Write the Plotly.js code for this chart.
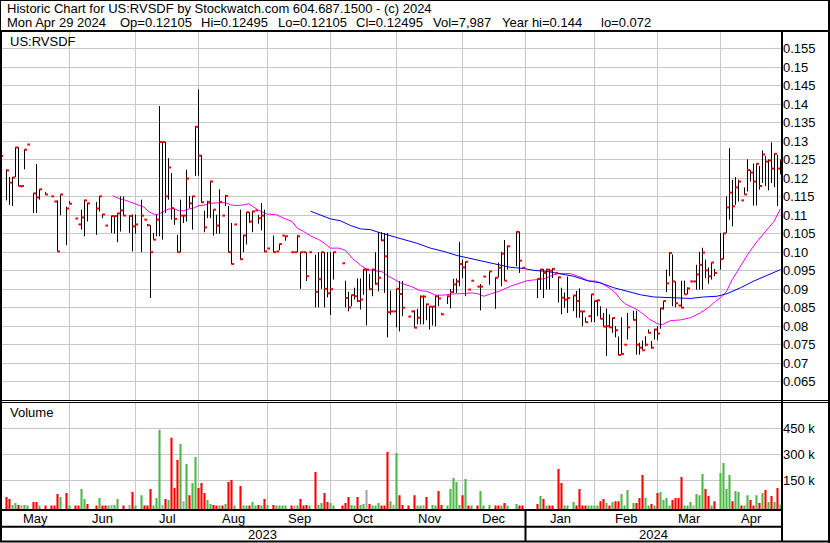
<!DOCTYPE html>
<html><head><meta charset="utf-8">
<script src="https://cdn.plot.ly/plotly-3.0.1.min.js"></script>
<style>html,body{margin:0;padding:0;background:#fff}#chart{width:830px;height:543px}</style>
</head><body><div id="chart"></div>
<script>
// ---------- DATA ----------
// trading-day index (weekdays counted from Mon May 1 2023 = 0 to Mon Apr 29 2024 = 260)
const barDay = [
 0,2,3,4,5,6,7,8,9,11,
 12,13,15,17,18,19,20,22,23,25,
 26,27,28,29,32,33,34,35,37,38,
 39,40,41,43,44,45,47,48,49,50,
 51,52,53,54,55,56,57,58,59,60,
 61,62,63,64,65,66,67,68,69,70,
 71,72,73,74,75,76,77,78,80,81,
 82,83,84,85,86,87,88,89,91,92,
 93,94,95,97,98,99,100,101,102,103,
 105,106,107,108,109,110,111,114,115,116,
 117,118,119,120,121,122,123,124,125,126,
 127,128,129,130,131,132,133,134,136,137,
 138,139,140,141,142,143,144,145,146,147,
 149,150,151,152,153,154,155,156,157,159,
 160,161,163,165,166,167,168,169,172,173,
 174,179,180,181,182,183,184,185,186,187,
 188,189,191,192,193,194,195,196,197,198,
 199,200,201,202,203,204,205,206,207,208,
 209,211,212,213,214,215,216,217,218,219,
 220,221,222,223,224,225,226,227,228,229,
 230,231,232,233,234,235,236,237,238,240,
 241,242,243,244,245,246,247,248,249,250,
 251,252,253,254,255,256,257,258,259,260];
const barHigh = [
 .1321,.1224,.1203,.1203,.1284,.1284,.1179,.1278,.1291,.1159,
 .1238,.1170,.1163,.1151,.1137,.1140,.1156,.1123,.1138,.1091,
 .1075,.1115,.1142,.1134,.1136,.1152,.1103,.1072,.1098,.1098,
 .1105,.1151,.1151,.1099,.1102,.1102,.1142,.1088,.1076,.1073,
 .1052,.1101,.1395,.1298,.1298,.1254,.1214,.1117,.1047,.1142,
 .1101,.1223,.1152,.1152,.1341,.1440,.1263,.1112,.1139,.1193,
 .1115,.1101,.1170,.1099,.1155,.1125,.1079,.1075,.1115,.1047,
 .1108,.1108,.1112,.1113,.1101,.1133,.1115,.1010,.1045,.1002,
 .1022,.1045,.1044,.1000,.1000,.1047,.1000,.1000,.1000,.1000,
 .0993,.1000,.1000,.1000,.1000,.1000,.1000,.0970,.0923,.0893,
 .0885,.0904,.0929,.0929,.0955,.0955,.0941,.0955,.1000,.1054,
 .1054,.1052,.1052,.0896,.0840,.0901,.0922,.0922,.0826,.0840,
 .0843,.0847,.0883,.0883,.0861,.0854,.0854,.0883,.0883,.0836,
 .0883,.0901,.0928,.0929,.1028,.0980,.0975,.0899,.0923,.0907,
 .0914,.0934,.0948,.0932,.0972,.1001,.1033,.1018,.1056,.1056,
 .0958,.0928,.0955,.0955,.0955,.0955,.0957,.0944,.0934,.0904,
 .0891,.0934,.0883,.0895,.0902,.0840,.0824,.0827,.0887,.0869,
 .0872,.0854,.0836,.0848,.0832,.0823,.0800,.0772,.0824,.0750,
 .0836,.0842,.0842,.0755,.0761,.0773,.0791,.0760,.0793,.0800,
 .0850,.0868,.0953,.1000,.0994,.0921,.0856,.0923,.0923,.0905,
 .0921,.0921,.0966,.1001,.1012,.0980,.0959,.0972,.0955,.1052,
 .1052,.1151,.1281,.1196,.1203,.1196,.1140,.1175,.1251,.1222,
 .1240,.1240,.1233,.1275,.1260,.1251,.1297,.1267,.1263,.12495];
const barLow = [
 .1259,.1140,.1128,.1125,.1203,.1179,.1175,.1224,.1291,.1106,
 .1106,.1142,.1156,.1151,.1137,.1002,.1100,.1019,.1130,.1091,
 .1075,.1061,.1043,.1083,.1047,.1110,.1092,.1072,.1052,.1050,
 .1027,.1056,.1099,.1052,.1002,.1050,.1000,.1088,.1070,.0876,
 .1034,.1043,.1043,.1034,.1106,.1142,.1088,.1074,.1000,.1000,
 .1079,.1083,.1119,.1061,.1206,.1207,.1133,.1054,.1092,.1092,
 .1045,.1050,.1050,.1099,.1125,.1000,.0968,.1075,.0980,.1000,
 .1021,.1079,.1054,.1113,.1077,.1059,.1000,.1010,.1000,.1002,
 .1005,.1045,.1031,.1000,.1000,.1000,.0901,.1000,.0922,.1000,
 .0851,.0851,.0901,.0851,.0878,.0830,.0926,.0970,.0851,.0840,
 .0854,.0872,.0865,.0845,.0885,.0802,.0899,.0881,.0912,.0894,
 .1030,.0890,.0770,.0831,.0840,.0797,.0786,.0827,.0826,.0840,
 .0796,.0805,.0805,.0805,.0816,.0791,.0802,.0800,.0854,.0832,
 .0860,.0848,.0890,.0890,.0908,.0930,.0881,.0899,.0923,.0907,
 .0843,.0934,.0912,.0847,.0932,.0908,.0923,.0953,.0962,.0944,
 .0958,.0876,.0898,.0876,.0899,.0899,.0930,.0944,.0864,.0832,
 .0850,.0836,.0841,.0823,.0823,.0800,.0811,.0827,.0811,.0811,
 .0827,.0820,.0799,.0720,.0796,.0782,.0770,.0722,.0723,.0750,
 .0764,.0817,.0723,.0723,.0735,.0746,.0782,.0739,.0764,.0762,
 .0793,.0845,.0892,.0935,.0854,.0851,.0856,.0850,.0886,.0886,
 .0921,.0921,.0899,.0899,.0899,.0930,.0915,.0926,.0935,.0953,
 .0981,.1052,.1088,.1070,.1128,.1137,.1140,.1156,.1164,.1191,
 .1126,.1126,.1169,.1187,.1179,.1167,.1187,.1176,.1125,.12105];
const barClose = [
 .1260,.1221,.1188,.1202,.1283,.1179,.1179,.1277,.1291,.1159,
 .1148,.1170,.1156,.1151,.1137,.1002,.1156,.1118,.1131,.1091,
 .1075,.1094,.1140,.1132,.1118,.1151,.1102,.1072,.1098,.1098,
 .1105,.1113,.1099,.1098,.1070,.1075,.1099,.1088,.1073,.1000,
 .1034,.1088,.1298,.1298,.1151,.1229,.1119,.1090,.1000,.1099,
 .1099,.1199,.1132,.1151,.1339,.1261,.1135,.1067,.1136,.1191,
 .1115,.1072,.1136,.1099,.1152,.1000,.0968,.1075,.0981,.1045,
 .1108,.1083,.1110,.1113,.1092,.1099,.1002,.1010,.1000,.1002,
 .1022,.1045,.1043,.1000,.1000,.1043,.1000,.1000,.0935,.1000,
 .0893,.0927,.1000,.0901,.0889,.0900,.1000,.0970,.0876,.0851,
 .0884,.0881,.0868,.0872,.0953,.0953,.0900,.0953,.0915,.0931,
 .1032,.0989,.0838,.0840,.0840,.0901,.0887,.0850,.0826,.0840,
 .0796,.0823,.0880,.0880,.0859,.0853,.0853,.0881,.0875,.0832,
 .0881,.0892,.0913,.0921,.0968,.0959,.0974,.0899,.0923,.0907,
 .0907,.0934,.0948,.0931,.0958,.0996,.0923,.1016,.1055,.0977,
 .0958,.0928,.0953,.0944,.0953,.0950,.0955,.0944,.0932,.0877,
 .0872,.0876,.0883,.0868,.0840,.0840,.0811,.0827,.0886,.0868,
 .0870,.0820,.0799,.0800,.0797,.0822,.0789,.0722,.0725,.0750,
 .0797,.0817,.0750,.0742,.0735,.0750,.0782,.0742,.0791,.0780,
 .0848,.0868,.0916,.0998,.0921,.0862,.0856,.0850,.0886,.0902,
 .0921,.0921,.0940,.0966,.0999,.0951,.0935,.0972,.0944,.0981,
 .1051,.1121,.1161,.1124,.1175,.1191,.1140,.1156,.1222,.1215,
 .1191,.1239,.1179,.1264,.1245,.1248,.1226,.1266,.1226,.12495];

// moving averages
const maFastDay = [37.4,39.4,41.1,42.8,45.6,47.8,49.4,51.1,52.2,53.9,56.1,57.8,59.4,61.1,62.8,64.4,66.1,67.8,69.4,71.1,72.8,75,76.7,78.9,81.1,82.8,84.4,86.1,88.9,91.7,94.4,97.2,98.9,101.1,103.3,106.1,107.8,110,112.8,115,117.2,120,122.2,125,127.2,129.4,133.3,136.7,140,142.2,145,147.8,150.6,153.9,157.2,159.4,161.1,163.3,166.7,170,172.8,175.5,178.9,181.7,184.4,186.1,190,191.7,193.9,196.1,198.3,200.6,202.8,205,206.7,208.3,210.6,212.2,214.4,216.1,218.9,220.6,223.3,226.7,230,233.3,236.1,238.3,240.6,242,243.9,246.7,249.4,252.2,255,257.8,260];
const maFastVal = [.1153,.1145,.1142,.1137,.1128,.1122,.1110,.1103,.1101,.1108,.1117,.1118,.1112,.1112,.1117,.1119,.1126,.1127,.1131,.1133,.1133,.1134,.1128,.1126,.1128,.1131,.1122,.1113,.1103,.1102,.1092,.1083,.1065,.1056,.1044,.1034,.1025,.1011,.1011,.1005,.0984,.0965,.0953,.0950,.0947,.0935,.0917,.0908,.0896,.0894,.0884,.0884,.0887,.0888,.0890,.0887,.0881,.0887,.0896,.0908,.0916,.0923,.0926,.0929,.0939,.0942,.0942,.0938,.0931,.0922,.0922,.0915,.0904,.0890,.0872,.0860,.0851,.0845,.0832,.0820,.0807,.0804,.0815,.0817,.0823,.0836,.0851,.0867,.0881,.0894,.0926,.0962,.0998,.1029,.1056,.1083,.1117];
const maSlowDay = [103.3,106.7,110,113.3,116.7,120,123.3,126.7,130,134.4,138.9,143.3,147.8,152.2,156.7,161.1,165.6,170,174.4,177.8,182.2,186.7,191.1,195.6,200,204.4,208.9,213.3,217.8,221.1,225.6,230,234.4,238.9,242.2,246.7,251.1,255.6,260];
const maSlowVal = [.1111,.1100,.1090,.1085,.1072,.1063,.1061,.1052,.1044,.1035,.1024,.1011,.1002,.0991,.0983,.0974,.0968,.0959,.0956,.0951,.0948,.0942,.0935,.0923,.0917,.0904,.0894,.0885,.0879,.0878,.0876,.0875,.0879,.0881,.0888,.0904,.0922,.0938,.0953];

// volume: day index, shares, direction (g up, r down, n unchanged)
const volDay = [
 0,2,3,4,5,6,7,8,9,11, 12,13,15,17,18,19,20,22,23,25, 26,27,28,29,32,33,34,35,36,37,
 38,39,41,43,44,45,47,48,49,50, 51,52,53,54,55,56,57,58,59,60, 61,62,63,64,65,66,67,68,69,70,
 71,72,73,74,75,76,77,78,80,81, 82,83,84,85,86,87,88,89,91,92, 93,94,95,97,98,99,100,101,102,103,
 105,106,107,108,109,110,111,114,115,116, 117,118,119,120,121,122,123,124,125,126, 127,128,129,130,131,132,133,134,136,138,
 139,140,141,142,144,145,146,147,149,150, 151,152,153,154,155,156,157,159,160,161, 163,165,166,167,168,169,172,173,174,179,
 180,181,182,183,184,186,187,188,189,191, 192,193,194,195,196,197,198,199,200,201, 202,203,204,205,206,207,208,209,211,212,
 213,214,215,216,217,218,219,220,221,222, 223,224,225,226,227,228,229,230,231,232, 233,234,235,236,237,238,240,241,242,243,
 244,245,246,247,248,249,250,251,252,253, 254,255,256,257,258,259,260];
const volValue = [
 10000,51000,39000,4000,16000,4000,3000,4000,2000,22000, 22000,2000,2000,2000,2000,68000,51000,74000,2000,2000, 2000,97000,39000,10000,2000,45000,2000,2000,2000,4000,
 4000,39000,2000,4000,80000,2000,62000,2000,2000,97000, 2000,45000,442000,4000,39000,33000,395000,103000,267000,360000, 27000,243000,62000,132000,284000,103000,132000,74000,33000,10000,
 4000,2000,2000,2000,10000,138000,150000,2000,115000,2000, 2000,2000,22000,2000,4000,2000,39000,4000,4000,2000, 2000,2000,2000,2000,2000,2000,39000,2000,4000,2000,
 197000,4000,16000,74000,22000,16000,2000,2000,16000,51000, 4000,2000,51000,4000,10000,92000,10000,2000,2000,16000, 2000,2000,313000,27000,4000,307000,62000,4000,2000,62000,
 2000,2000,4000,51000,4000,2000,86000,4000,2000,97000, 162000,138000,4000,62000,156000,2000,2000,2000,86000,2000, 4000,2000,2000,2000,16000,2000,10000,2000,2000,10000,
 57000,39000,2000,2000,2000,214000,132000,2000,2000,22000, 2000,97000,2000,2000,2000,2000,2000,2000,27000,39000, 16000,2000,22000,27000,27000,68000,2000,92000,16000,16000,
 45000,179000,45000,2000,10000,2000,74000,80000,33000,45000, 2000,33000,45000,45000,167000,2000,2000,22000,2000,68000, 62000,185000,97000,57000,2000,27000,191000,249000,97000,179000,
 27000,86000,80000,2000,2000,62000,33000,2000,62000,16000, 74000,92000,22000,57000,22000,103000,7987];
const volDir = [
 'n','r','r','g','g','r','n','g','g','r', 'r','g','r','r','r','r','g','r','g','r', 'r','g','g','r','r','g','r','r','g','n',
 'g','g','r','n','r','g','g','r','r','r', 'g','g','g','n','r','g','r','r','r','g', 'n','g','r','g','g','r','r','r','g','g',
 'r','r','g','r','g','r','r','g','r','g', 'g','r','g','g','r','g','r','g','r','g', 'g','g','g','r','n','g','r','r','r','g',
 'r','g','g','r','r','g','g','r','r','r', 'g','g','r','g','g','n','r','g','g','g', 'r','r','r','g','n','g','r','r','r','r',
 'g','g','n','r','g','g','r','r','g','g', 'g','g','g','r','g','r','g','r','g','g', 'g','r','r','g','r','g','g','r','r','r',
 'g','r','g','r','r','r','r','g','g','g', 'r','r','r','r','g','g','g','g','r','r', 'g','r','g','r','r','g','g','g','g','r',
 'r','r','g','g','r','g','r','g','g','g', 'g','r','r','r','r','g','g','g','n','g', 'g','g','r','r','g','r','g','g','g','g',
 'r','g','g','r','g','g','r','r','g','r', 'g','r','g','r','g','r','g'];

// axis / label text
const monthNames = ['May','Jun','Jul','Aug','Sep','Oct','Nov','Dec','Jan','Feb','Mar','Apr'];
const monthStart = [0,23,45,66,89,110,132,154,175,198,219,240];
const yearNames = ['2023','2024'];
const yearStart = [0,175];
const priceTicks = [0.065,0.07,0.075,0.08,0.085,0.09,0.095,0.10,0.105,0.11,0.115,0.12,0.125,0.13,0.135,0.14,0.145,0.15,0.155];
const priceTickText = ['0.065','0.07','0.075','0.08','0.085','0.09','0.095','0.10','0.105','0.11','0.115','0.12','0.125','0.13','0.135','0.14','0.145','0.15','0.155'];
const volTicks = [150000,300000,450000];
const volTickText = ['150 k','300 k','450 k'];
const headerLine1 = 'Historic Chart for US:RVSDF by Stockwatch.com 604.687.1500 - (c) 2024';
const headerLine2 = ['Mon Apr 29 2024','Op=0.12105','Hi=0.12495','Lo=0.12105','Cl=0.12495','Vol=7,987','Year hi=0.144','lo=0.072'];
const symbolLabel = 'US:RVSDF';
const volumeLabel = 'Volume';

// ---------- LAYOUT HELPERS ----------
const W = 830, H = 543;
const PX = x => x / W, PY = y => 1 - y / H;
const X0 = 0.5, X1 = 260.5, PL = 2, PR = 782;   // exactly 3 px per trading day
const dayPx = d => PL + (d - X0) * (PR - PL) / (X1 - X0);
const PMIN = 0.060054, PMAX = 0.159514;
const VMIN = -20350, VMAX = 597700;

// ---------- TRACES ----------
const hlX = [], hlY = [], clX = [], clY = [];
for (let i = 0; i < barDay.length; i++) {
  const d = barDay[i];
  if (barHigh[i] > barLow[i]) { hlX.push(d, d, null); hlY.push(barLow[i], barHigh[i], null); }
  clX.push(d - 0.05, d + 0.85, null); clY.push(barClose[i], barClose[i], null);
}
const colorOf = {g: '#4db848', r: '#ff0000', n: '#a6a6a6'};
const traces = [
  {type: 'scatter', mode: 'lines', x: maFastDay, y: maFastVal, line: {color: '#ff00ff', width: 1}, xaxis: 'x', yaxis: 'y', hoverinfo: 'skip'},
  {type: 'scatter', mode: 'lines', x: maSlowDay, y: maSlowVal, line: {color: '#0000ff', width: 1}, xaxis: 'x', yaxis: 'y', hoverinfo: 'skip'},
  {type: 'scatter', mode: 'lines', x: hlX, y: hlY, line: {color: '#000000', width: 1}, xaxis: 'x', yaxis: 'y', hoverinfo: 'skip', connectgaps: false},
  {type: 'scatter', mode: 'lines', x: clX, y: clY, line: {color: '#ff0000', width: 2}, xaxis: 'x', yaxis: 'y', hoverinfo: 'skip', connectgaps: false},
  {type: 'bar', x: volDay, y: volValue.map(v => v - VMIN), base: VMIN, width: 0.7,
   marker: {color: volDir.map(s => colorOf[s]), line: {width: 0}}, xaxis: 'x2', yaxis: 'y2', hoverinfo: 'skip'}
];

// ---------- ANNOTATIONS ----------
const ann = [];
function addText(text, x, y, xanchor, xref) {
  ann.push({text: text, x: x, y: y, xref: xref || 'paper', yref: 'paper', xanchor: xanchor, yanchor: 'middle',
    showarrow: false, borderpad: 0, font: {size: 13, color: '#000'}});
}
addText(headerLine1, PX(6), PY(8.5), 'left');
const line2X = [6, 118.7, 200, 276.7, 355, 431.7, 501, 600];
headerLine2.forEach((t, i) => addText(t, PX(line2X[i]), PY(22.5), 'left'));
addText(symbolLabel, PX(9), PY(41.5), 'left');
addText(volumeLabel, PX(9), PY(413), 'left');
monthNames.forEach((m, i) => {
  const a = monthStart[i], b = (i + 1 < monthStart.length) ? monthStart[i + 1] : X1;
  addText(m, (a + b) / 2, PY(518), 'center', 'x');
});
yearNames.forEach((y, i) => {
  const a = i === 0 ? 0 : dayPx(yearStart[i]);
  const b = i + 1 < yearStart.length ? dayPx(yearStart[i + 1]) : PR;
  addText(y, PX((a + b) / 2), PY(534), 'center');
});

// ---------- SHAPES (frame lines) ----------
const shapes = [];
function hline(y, x0, x1, w) { shapes.push({type: 'line', xref: 'paper', yref: 'paper', x0: PX(x0), x1: PX(x1), y0: PY(y), y1: PY(y), line: {color: '#000', width: w}}); }
function vline(x, y0, y1, w) { shapes.push({type: 'line', xref: 'paper', yref: 'paper', x0: PX(x), x1: PX(x), y0: PY(y0), y1: PY(y1), line: {color: '#000', width: w}}); }
hline(0.5, 0, 830, 1);
hline(31, 0, 830, 2);
vline(0.5, 0, 31, 1);
vline(1, 31, 542, 2);
vline(829, 0, 543, 2);
vline(782, 31, 542, 2);
hline(400.5, 0, 830, 1);
hline(402.5, 0, 830, 1);
hline(510, 0, 782, 2);
hline(526.7, 0, 782, 2);
hline(541.5, 0, 830, 2);
vline(dayPx(yearStart[1]), 510, 541, 2);

const grid = '#c8c8c8';
const layout = {
  width: W, height: H, margin: {l: 0, r: 0, t: 0, b: 0},
  paper_bgcolor: '#fff', plot_bgcolor: '#fff', showlegend: false, hovermode: false,
  font: {family: 'Liberation Sans, Arial, sans-serif', size: 13, color: '#000'},
  xaxis: {domain: [PX(PL), PX(PR)], range: [X0, X1], anchor: 'y', tickvals: monthStart.slice(1), showticklabels: false,
    showgrid: true, gridcolor: grid, gridwidth: 1, zeroline: false, showline: false, ticks: '', fixedrange: true},
  yaxis: {domain: [PY(400), PY(32)], range: [PMIN, PMAX], anchor: 'x', side: 'right', tickvals: priceTicks, ticktext: priceTickText,
    showgrid: true, gridcolor: grid, gridwidth: 1, zeroline: false, showline: false, ticks: '', tickfont: {size: 13, color: '#000'}, fixedrange: true},
  xaxis2: {domain: [PX(PL), PX(PR)], range: [X0, X1], anchor: 'y2', tickvals: monthStart.slice(1), showticklabels: false,
    showgrid: true, gridcolor: grid, gridwidth: 1, zeroline: false, showline: false, ticks: '', fixedrange: true},
  yaxis2: {domain: [PY(509.3), PY(403)], range: [VMIN, VMAX], anchor: 'x2', side: 'right', tickvals: volTicks, ticktext: volTickText,
    showgrid: true, gridcolor: grid, gridwidth: 1, zeroline: false, showline: false, ticks: '', tickfont: {size: 13, color: '#000'}, fixedrange: true},
  annotations: ann, shapes: shapes
};
Plotly.newPlot('chart', traces, layout, {staticPlot: true, displayModeBar: false});
</script></body></html>
